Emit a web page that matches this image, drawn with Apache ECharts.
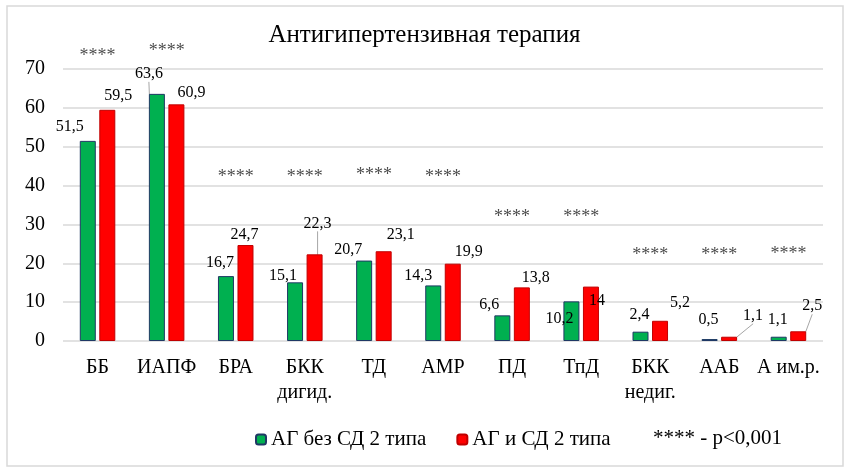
<!DOCTYPE html>
<html>
<head>
<meta charset="utf-8">
<script src="https://cdn.jsdelivr.net/npm/echarts@6/dist/echarts.min.js"></script>
<style>
  html, body { margin: 0; padding: 0; background: #fff; }
  #main { width: 849px; height: 473px; }
</style>
</head>
<body>
<div id="main"></div>
<script>
// data
var categories = ['ББ', 'ИАПФ', 'БРА', 'БКК\nдигид.', 'ТД', 'АМР', 'ПД', 'ТпД', 'БКК\nнедиг.', 'ААБ', 'А им.р.'];
var noDiabetes = [51.5, 63.6, 16.7, 15.1, 20.7, 14.3, 6.6, 10.2, 2.4, 0.5, 1.1];
var withDiabetes = [59.5, 60.9, 24.7, 22.3, 23.1, 19.9, 13.8, 14, 5.2, 1.1, 2.5];
var starLevels = [73.3, 74.6, 42.2, 42.2, 42.7, 42.2, 31.8, 31.8, 22, 22, 22.2];
var seriesNames = ['АГ без СД 2 типа', 'АГ и СД 2 типа'];
var yTicks = [0, 10, 20, 30, 40, 50, 60, 70];

// label shifts (Excel placed them by hand)
var greenDx = [-18, -8, -6, -12, -16, -15, -13, -12, -1, -1, -1];
var greenDy = [-6, -12, -5, 1, -3, -2, -3, 25, -9, -11, -9];
var redDx = [11, 15, -1, 3, 17, 16, 14, 6, 20, 24, 14];
var redDy = [-6, -4, -2, -23, -8, -4, -2, 22, -10, -13, -17];
var greenLeader = [false, true, false, false, false, false, false, false, false, false, false];
var redLeader = [false, false, false, true, false, false, false, false, false, true, true];

var fmt = function (v) { return String(v).replace('.', ','); };
var serif = 'Liberation Serif';

function barData(values, leaders) {
  return values.map(function (v, i) {
    return { value: v, labelLine: { show: leaders[i] } };
  });
}

var chart = echarts.init(document.getElementById('main'));

var option = {
  animation: false,
  backgroundColor: '#fff',
  title: {
    text: 'Антигипертензивная терапия',
    left: 'center',
    top: 18,
    textStyle: { fontFamily: serif, fontSize: 25, fontWeight: 'normal', color: '#000' }
  },
  legend: {
    data: seriesNames,
    left: 250,
    top: 424,
    itemWidth: 10,
    itemHeight: 10,
    itemGap: 30,
    textStyle: { fontFamily: serif, fontSize: 21, color: '#000' }
  },
  graphic: [
    {
      type: 'rect',
      shape: { x: 7, y: 6, width: 836, height: 460 },
      style: { fill: 'none', stroke: '#d9d9d9', lineWidth: 1.5 },
      silent: true
    },
    {
      type: 'text',
      left: 653,
      top: 428,
      style: { text: '**** - p<0,001', fontFamily: serif, fontSize: 21, fill: '#000' }
    }
  ],
  grid: { left: 63, right: 26, top: 69, bottom: 132 },
  xAxis: {
    type: 'category',
    data: categories,
    axisLine: { show: false },
    axisTick: { show: false },
    axisLabel: { fontFamily: serif, fontSize: 20, color: '#000', lineHeight: 25, margin: 14, interval: 0 }
  },
  yAxis: {
    type: 'value',
    min: yTicks[0],
    max: yTicks[yTicks.length - 1],
    interval: 10,
    axisLine: { show: false },
    axisTick: { show: false },
    axisLabel: { fontFamily: serif, fontSize: 20, color: '#000', margin: 18 },
    splitLine: { lineStyle: { color: '#d9d9d9', width: 1.5 } }
  },
  series: [
    {
      name: seriesNames[0],
      type: 'bar',
      data: barData(noDiabetes, greenLeader),
      barWidth: 16,
      barGap: '22%',
      itemStyle: { color: '#00b050', borderColor: '#1f3864', borderWidth: 1 },
      label: {
        show: true, position: 'top', distance: 0,
        fontFamily: serif, fontSize: 16, color: '#000',
        formatter: function (p) { return fmt(p.value); }
      },
      labelLine: { show: false, lineStyle: { color: '#a6a6a6', width: 1 } },
      labelLayout: function (p) {
        return { dx: greenDx[p.dataIndex], dy: greenDy[p.dataIndex] };
      }
    },
    {
      name: seriesNames[1],
      type: 'bar',
      data: barData(withDiabetes, redLeader),
      barWidth: 16,
      itemStyle: { color: '#ff0000', borderColor: '#c00000', borderWidth: 1 },
      label: {
        show: true, position: 'top', distance: 0,
        fontFamily: serif, fontSize: 16, color: '#000',
        formatter: function (p) { return fmt(p.value); }
      },
      labelLine: { show: false, lineStyle: { color: '#a6a6a6', width: 1 } },
      labelLayout: function (p) {
        return { dx: redDx[p.dataIndex], dy: redDy[p.dataIndex] };
      }
    },
    {
      name: 'stars',
      type: 'scatter',
      data: starLevels,
      symbolSize: 0,
      clip: false,
      silent: true,
      label: {
        show: true, position: 'inside',
        fontFamily: serif, fontSize: 18, color: '#1a1a1a',
        formatter: '****'
      }
    }
  ]
};
chart.setOption(option);
</script>
</body>
</html>
